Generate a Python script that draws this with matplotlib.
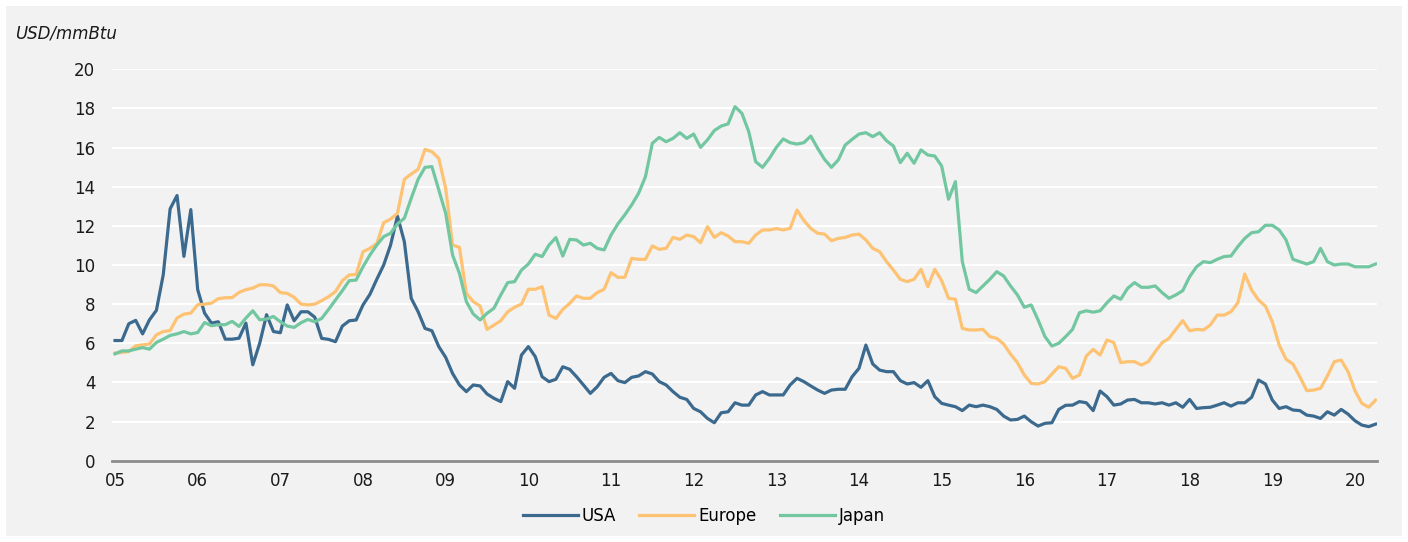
import numpy as np
import matplotlib
matplotlib.use("Agg")
from matplotlib import pyplot as plt
from matplotlib.patches import Rectangle

# monthly gas prices, Jan 2005 - Apr 2020 (USD/mmBtu)
year_labels = ["05", "06", "07", "08", "09", "10", "11", "12",
               "13", "14", "15", "16", "17", "18", "19", "20"]

usa = [6.14, 6.14, 7.0, 7.17, 6.48, 7.2, 7.68, 9.5, 12.87, 13.55, 10.44, 12.83,
       8.74, 7.54, 7.03, 7.1, 6.21, 6.21, 6.26, 7.03, 4.9, 6.0, 7.46, 6.6,
       6.54, 7.96, 7.15, 7.61, 7.61, 7.33, 6.25, 6.2, 6.08, 6.88, 7.15, 7.19,
       7.96, 8.5, 9.27, 10.0, 11.02, 12.5, 11.19, 8.3, 7.61, 6.76, 6.64, 5.83,
       5.28, 4.46, 3.87, 3.53, 3.87, 3.82, 3.41, 3.19, 3.02, 4.04, 3.7, 5.4,
       5.83, 5.32, 4.29, 4.04, 4.16, 4.8, 4.67, 4.29, 3.87, 3.44, 3.78, 4.26,
       4.46, 4.09, 3.99, 4.26, 4.33, 4.55, 4.43, 4.04, 3.87, 3.53, 3.24, 3.13,
       2.67, 2.5, 2.16, 1.94, 2.45, 2.5, 2.96, 2.84, 2.84, 3.36, 3.53, 3.36,
       3.36, 3.36, 3.87, 4.21, 4.04, 3.82, 3.61, 3.44, 3.61, 3.65, 3.65, 4.29,
       4.72, 5.91, 4.94, 4.63, 4.55, 4.55, 4.09, 3.92, 3.99, 3.75, 4.09, 3.27,
       2.93, 2.84, 2.76, 2.56, 2.84, 2.76, 2.84, 2.76, 2.62, 2.28, 2.08, 2.11,
       2.28, 1.99, 1.77, 1.91, 1.94, 2.62, 2.83, 2.84, 3.02, 2.96, 2.56, 3.56,
       3.27, 2.84, 2.9, 3.1, 3.13, 2.96, 2.96, 2.9, 2.96, 2.84, 2.96, 2.73,
       3.13, 2.67, 2.71, 2.73, 2.84, 2.96, 2.79, 2.96, 2.96, 3.24, 4.12, 3.92,
       3.1, 2.67, 2.76, 2.59, 2.56, 2.33, 2.28, 2.16, 2.5, 2.33, 2.62, 2.38,
       2.04, 1.82, 1.74, 1.87]

europe = [5.5, 5.53, 5.58, 5.87, 5.92, 5.96, 6.43, 6.6, 6.65, 7.29, 7.49, 7.54,
          7.97, 8.0, 8.05, 8.28, 8.33, 8.33, 8.6, 8.74, 8.82, 8.99, 8.99, 8.93,
          8.59, 8.55, 8.35, 8.0, 7.96, 8.0, 8.18, 8.38, 8.64, 9.2, 9.49, 9.52,
          10.68, 10.85, 11.1, 12.16, 12.35, 12.64, 14.38, 14.65, 14.89, 15.91, 15.79, 15.45,
          13.92, 11.02, 10.9, 8.55, 8.13, 7.9, 6.71, 6.93, 7.15, 7.61, 7.84, 8.0,
          8.76, 8.76, 8.89, 7.44, 7.27, 7.73, 8.04, 8.42, 8.3, 8.3, 8.59, 8.76,
          9.61, 9.37, 9.37, 10.34, 10.29, 10.29, 10.97, 10.8, 10.85, 11.41, 11.31, 11.53,
          11.45, 11.14, 11.96, 11.41, 11.65, 11.48, 11.19, 11.19, 11.11, 11.53, 11.79, 11.79,
          11.86, 11.79, 11.87, 12.81, 12.27, 11.87, 11.62, 11.58, 11.24, 11.36, 11.41, 11.53,
          11.58, 11.28, 10.85, 10.68, 10.17, 9.74, 9.27, 9.15, 9.27, 9.78, 8.89, 9.78,
          9.2, 8.3, 8.25, 6.76, 6.68, 6.68, 6.71, 6.34, 6.25, 5.96, 5.45, 5.01,
          4.38, 3.95, 3.92, 4.04, 4.43, 4.8, 4.72, 4.21, 4.38, 5.35, 5.69, 5.4,
          6.17, 6.03, 5.01, 5.06, 5.06, 4.89, 5.06, 5.57, 6.03, 6.25, 6.71, 7.16,
          6.64, 6.71, 6.68, 6.93, 7.44, 7.44, 7.61, 8.07, 9.54, 8.72, 8.21, 7.9,
          7.1, 5.91, 5.18, 4.94, 4.29, 3.58, 3.61, 3.7, 4.33, 5.06, 5.14, 4.55,
          3.58, 2.93, 2.73, 3.1]

japan = [5.46, 5.61, 5.61, 5.7, 5.78, 5.7, 6.04, 6.21, 6.4, 6.48, 6.6, 6.48,
         6.55, 7.06, 6.9, 6.95, 6.95, 7.12, 6.86, 7.29, 7.66, 7.2, 7.24, 7.37,
         7.1, 6.88, 6.81, 7.05, 7.22, 7.1, 7.27, 7.73, 8.21, 8.69, 9.2, 9.23,
         9.91, 10.51, 11.02, 11.45, 11.62, 12.1, 12.39, 13.41, 14.38, 14.99, 15.03, 13.83,
         12.64, 10.51, 9.57, 8.13, 7.5, 7.19, 7.53, 7.79, 8.47, 9.1, 9.15, 9.74,
         10.05, 10.55, 10.43, 11.02, 11.4, 10.46, 11.31, 11.28, 11.02, 11.11, 10.85, 10.77,
         11.53, 12.1, 12.56, 13.07, 13.66, 14.51, 16.22, 16.52, 16.3, 16.47, 16.76, 16.47,
         16.69, 16.01, 16.39, 16.87, 17.1, 17.21, 18.09, 17.75, 16.81, 15.28, 14.99, 15.45,
         16.01, 16.44, 16.25, 16.18, 16.25, 16.59, 15.96, 15.4, 14.99, 15.37, 16.13, 16.42,
         16.69, 16.76, 16.56, 16.76, 16.35, 16.08, 15.23, 15.71, 15.2, 15.88, 15.62, 15.57,
         15.06, 13.36, 14.26, 10.17, 8.76, 8.59, 8.93, 9.27, 9.66, 9.44, 8.93, 8.47,
         7.84, 7.96, 7.19, 6.34, 5.86, 6.0, 6.34, 6.71, 7.56, 7.66, 7.59, 7.66,
         8.07, 8.42, 8.25, 8.81, 9.1, 8.86, 8.86, 8.93, 8.59, 8.3, 8.47, 8.69,
         9.4, 9.91, 10.17, 10.12, 10.29, 10.43, 10.46, 10.94, 11.36, 11.65, 11.7, 12.03,
         12.03, 11.79, 11.28, 10.29, 10.17, 10.05, 10.17, 10.85, 10.17, 10.0, 10.05, 10.05,
         9.91, 9.91, 9.91, 10.05]

months = np.arange(len(usa))

bg = "#f2f2f2"
fig = plt.figure(figsize=(14.08, 5.42), dpi=100, facecolor="white")
fig.patches.append(Rectangle((6 / 1408, 6 / 542), 1396 / 1408, 530 / 542,
                             transform=fig.transFigure, facecolor=bg,
                             edgecolor="none", zorder=-10))

ax = fig.add_axes([112 / 1408, (542 - 460.7) / 542, 1265 / 1408, 391.4 / 542])
ax.set_facecolor(bg)

ax.plot(months, usa, color="#3b6a8e", lw=2.3, label="USA")
ax.plot(months, europe, color="#fec273", lw=2.3, label="Europe")
ax.plot(months, japan, color="#72c7a1", lw=2.3, label="Japan")

ax.set_xlim(-0.44, 183.2)
ax.set_ylim(0, 20)
ax.set_yticks(range(0, 21, 2))
ax.set_xticks(np.arange(0, len(usa), 12))
ax.set_xticklabels(year_labels)
ax.tick_params(axis="both", length=0, labelsize=12, colors="#1a1a1a")
ax.tick_params(axis="y", pad=12)
ax.tick_params(axis="x", pad=8)
ax.grid(axis="y", color="white", lw=1.5)
ax.set_axisbelow(True)
for side in ["top", "right", "left"]:
    ax.spines[side].set_visible(False)
ax.spines["bottom"].set_color("#8c8c8c")
ax.spines["bottom"].set_linewidth(2)
ax.spines["bottom"].set_zorder(5)

fig.text(15 / 1408, 1 - 33 / 542, "USD/mmBtu", fontsize=12, style="italic",
         va="center", ha="left", color="#1a1a1a")

fig.legend(loc="center", bbox_to_anchor=(0.5, 1 - 516 / 542), ncol=3,
           frameon=False, fontsize=12, handlelength=3.3, columnspacing=1.4,
           handletextpad=0.25)

fig.savefig("out.png", dpi=100, facecolor="white")
